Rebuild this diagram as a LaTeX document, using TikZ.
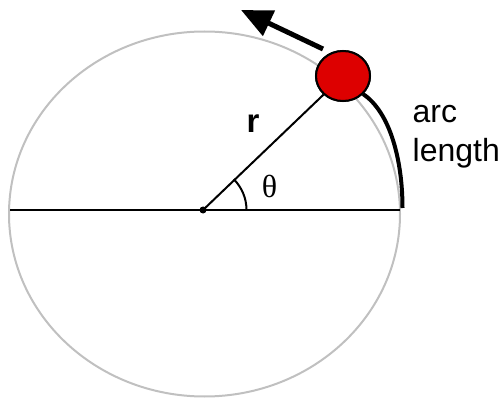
\documentclass[tikz,border=0pt]{standalone}
\usepackage{fontspec}
\setmainfont{Liberation Sans}
\newfontfamily\serifthe{Liberation Serif}
\usetikzlibrary{arrows.meta,shapes.geometric}
\definecolor{ballred}{HTML}{DD0000}
\definecolor{circgrey}{HTML}{C0C0C0}
\tikzset{
  orbit/.style={draw=circgrey,line width=2pt},
  thinline/.style={draw=black,line width=2pt},
  arcthick/.style={draw=black,line width=4pt},
  ballnode/.style={ellipse,draw=black,line width=2pt,fill=ballred,minimum width=54pt,minimum height=50pt,inner sep=0pt},
  lbl/.style={inner sep=0pt,font=\fontsize{32}{38}\selectfont},
  motion/.style={draw=black,line width=5pt,-{Triangle[length=31pt,width=27pt]}}
}
\begin{document}
\begin{tikzpicture}[x=1pt,y=-1pt]
\useasboundingbox (0,0) rectangle (503,398);
% orbit
\draw[orbit] (204.5,214) ellipse [x radius=195.5pt, y radius=182.5pt];
% centre and axis
\coordinate (O) at (203,210);
\coordinate (L) at (10,210);
\coordinate (R) at (400,210);
\draw[thinline] (L) -- (R);
\fill[black] (O) circle (3.5pt);
% angle arc
\draw[thinline] (O) ++(43.5,0) arc [start angle=0, end angle=45, radius=43.5pt];
% ball
\node[ballnode] (ball) at (343,76) {};
% radius line
\draw[thinline] (O) -- (ball);
% arc length curve
\coordinate (E) at (402.5,208);
\draw[arcthick] (ball.-42) .. controls (390,112) and (402.5,160) .. (E);
% redraw ball on top
\node[ballnode] at (343,76) {};
% motion arrow
\coordinate (A0) at (323,49);
\coordinate (A1) at (241,10);
\draw[motion] (A0) -- (A1);
% labels
\node[lbl,anchor=base,font=\fontsize{33}{38}\selectfont\bfseries] (r) at (253,133) {r};
\node[lbl,anchor=base,font=\fontsize{32}{34}\selectfont\serifthe] (theta) at (269.5,197) {θ};
\node[lbl,anchor=base west] (arc) at (412.5,123) {arc};
\node[lbl,anchor=base west] (len) at (412.5,162) {length};
\end{tikzpicture}
\end{document}
